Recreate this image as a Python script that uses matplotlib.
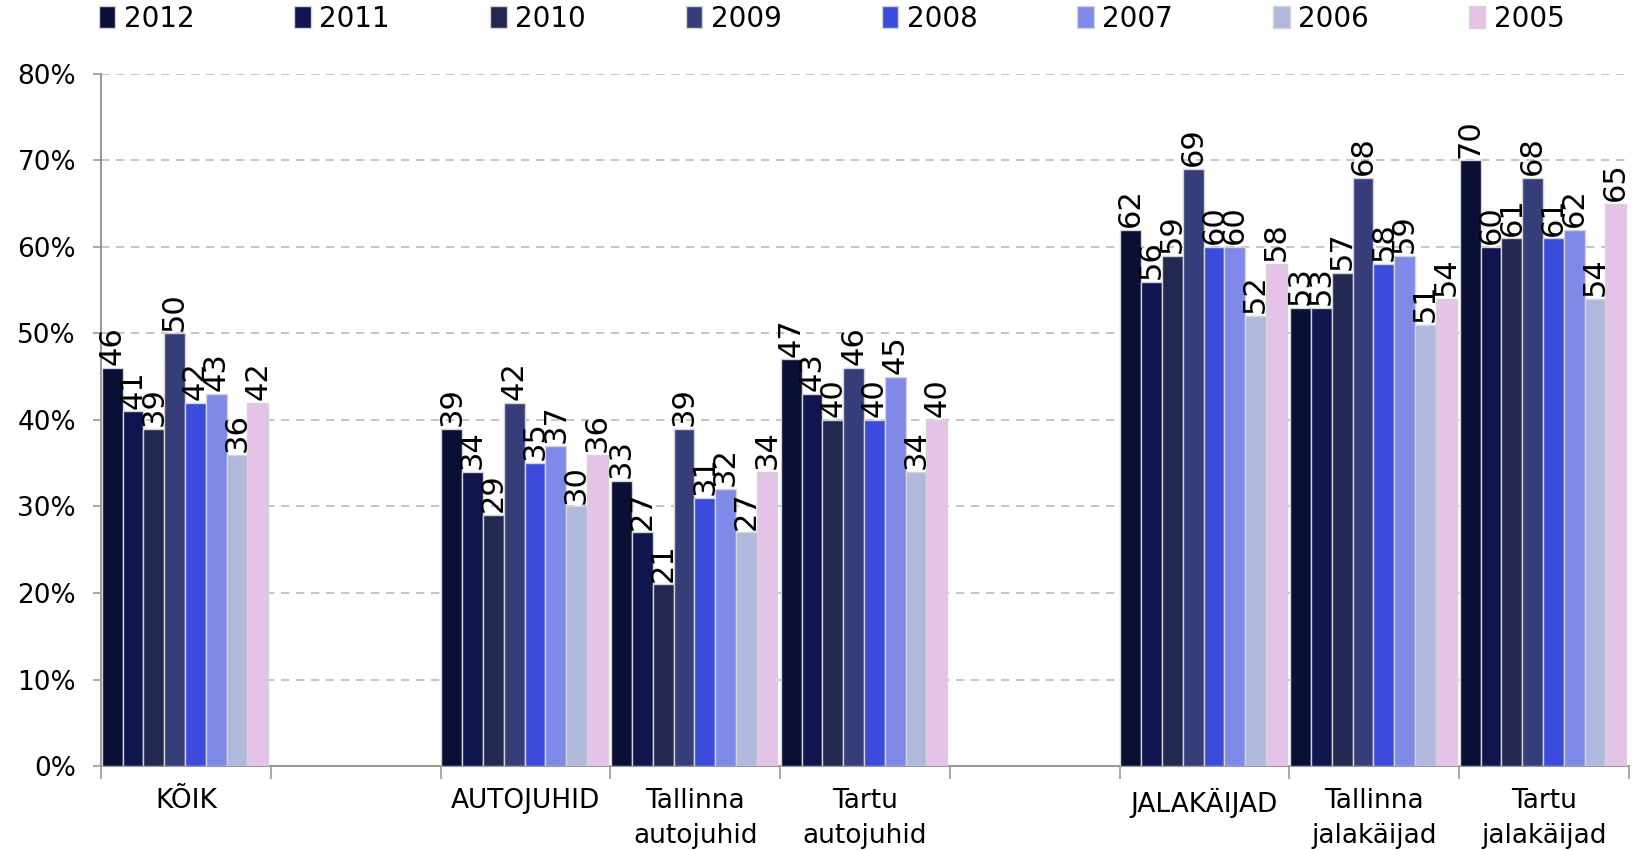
import matplotlib.pyplot as plt
import numpy as np

plt.rcParams['font.family'] = ['DejaVu Sans']

years = ["2012", "2011", "2010", "2009", "2008", "2007", "2006", "2005"]
colors = ["#0a0f35", "#10154f", "#222850", "#363e7a", "#3b4cdc", "#7f89e8", "#b0b8dd", "#e5c3e8"]

# slot index of each group (slots 1 and 5 are left empty)
slots = [0, 2, 3, 4, 6, 7, 8]
categories = ["KÕIK", "AUTOJUHID", "Tallinna\nautojuhid", "Tartu\nautojuhid",
              "JALAKÄIJAD", "Tallinna\njalakäijad", "Tartu\njalakäijad"]

values = {
    "2012": [46, 39, 33, 47, 62, 53, 70],
    "2011": [41, 34, 27, 43, 56, 53, 60],
    "2010": [39, 29, 21, 40, 59, 57, 61],
    "2009": [50, 42, 39, 46, 69, 68, 68],
    "2008": [42, 35, 31, 40, 60, 58, 61],
    "2007": [43, 37, 32, 45, 60, 59, 62],
    "2006": [36, 30, 27, 34, 52, 51, 54],
    "2005": [42, 36, 34, 40, 58, 54, 65],
}

fig = plt.figure(figsize=(16.37, 8.5), dpi=100)
ax = fig.add_axes([0.0617, 0.0988, 0.9333, 0.8142])

n = len(years)
w = 0.98 / n
x0 = np.array(slots, dtype=float) + 0.005

handles = []
for j, yr in enumerate(years):
    xs = x0 + j * w + w / 2
    b = ax.bar(xs, values[yr], width=w, color=colors[j], edgecolor="#d4d4d4",
               linewidth=1.0, label=yr, zorder=3)
    handles.append(b)
    for x, v in zip(xs, values[yr]):
        ax.annotate(str(v), (x, v), xytext=(0, 2), textcoords="offset points",
                    rotation=90, ha="center", va="bottom", fontsize=22, zorder=4)

ax.set_xlim(0, 9)
ax.set_ylim(0, 80)
ax.set_yticks(range(0, 81, 10))
ax.set_yticklabels([f"{t}%" for t in range(0, 81, 10)], fontsize=19)
ax.set_xticks(range(0, 10))
ax.set_xticklabels([])
ax.set_xticks([s + 0.5 for s in slots], minor=True)
ax.set_xticklabels(categories, minor=True, fontsize=19, linespacing=1.45, va="top")
ax.tick_params(axis="x", which="major", length=9, color="#999999", width=1.2)
ax.tick_params(axis="x", which="minor", length=0, pad=16)
ax.tick_params(axis="y", length=6, color="#999999", width=1.2, pad=12)

for s in ["top", "right"]:
    ax.spines[s].set_visible(False)
for s in ["left", "bottom"]:
    ax.spines[s].set_color("#999999")
    ax.spines[s].set_linewidth(1.5)

ax.yaxis.grid(True, linestyle=(0, (5, 4)), color="#bbbbbb", linewidth=1.2, zorder=0)
ax.set_axisbelow(True)

fig.legend(handles=handles, labels=years, loc="center", bbox_to_anchor=(0.508, 0.978),
           ncol=8, frameon=False, fontsize=20, handlelength=0.6, handleheight=0.8,
           handletextpad=0.3, columnspacing=3.6)

fig.savefig("out.png", dpi=100)
